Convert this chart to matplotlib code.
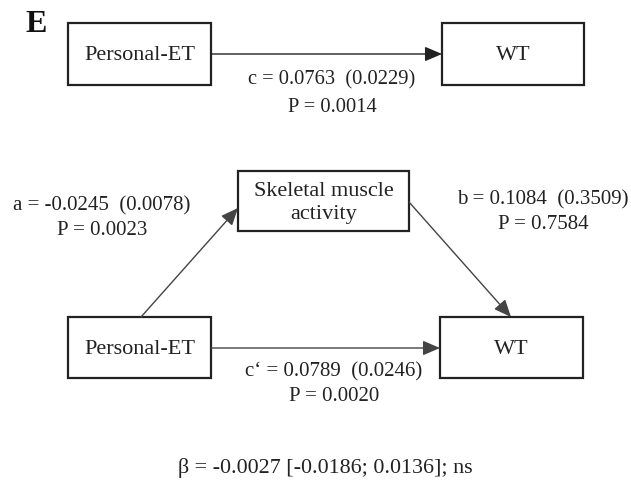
import matplotlib.pyplot as plt
from matplotlib.patches import Rectangle

# Mediation model values
path_names = ["c", "a", "b", "c\u2018"]
coefs = ["0.0763", "-0.0245", "0.1084", "0.0789"]
ses = ["0.0229", "0.0078", "0.3509", "0.0246"]
pvals = ["0.0014", "0.0023", "0.7584", "0.0020"]
indirect = ["-0.0027", "-0.0186", "0.0136", "ns"]

node_x = "Personal-ET"
node_y = "WT"
node_m = "Skeletal muscle\nactivity"

plt.rcParams['font.family'] = ['Liberation Serif', 'DejaVu Serif']

fig = plt.figure(figsize=(6.31, 4.81), dpi=100)
ax = fig.add_axes([0, 0, 1, 1])
ax.set_xlim(0, 631)
ax.set_ylim(481, 0)
ax.axis('off')

col = '#222222'


def box(x0, y0, x1, y1, label):
    ax.add_patch(Rectangle((x0, y0), x1 - x0, y1 - y0, fill=False,
                           edgecolor=col, lw=1.6))
    ax.text((x0 + x1) / 2, (y0 + y1) / 2 + 1, label, ha='center', va='center',
            fontsize=16, color=col, linespacing=1.3)


def arrow(x0, y0, x1, y1, color=col, lw=1.0):
    ax.annotate("", xy=(x1, y1), xytext=(x0, y0),
                arrowprops=dict(arrowstyle='-|>,head_length=0.7,head_width=0.3',
                                color=color, lw=lw,
                                mutation_scale=15, shrinkA=0, shrinkB=0))


def path_label(x, y, i, fs=15, gap=25):
    ax.text(x, y, f"{path_names[i]} = {coefs[i]}  ({ses[i]})", ha='center',
            va='center', fontsize=fs, color=col)
    ax.text(x, y + gap, f"P = {pvals[i]}", ha='center', va='center',
            fontsize=fs, color=col)


# panel letter
ax.text(25, 24, "E", fontsize=23, fontweight='bold', ha='left', va='center',
        color='#111111')

# total effect
box(68, 24, 211, 86, node_x)
box(442, 24, 584, 86, node_y)
arrow(211, 55, 442, 55)
path_label(332, 80, 0, fs=14.8, gap=27)

# mediation model
box(238, 172, 409, 232, node_m)
box(68, 318, 211, 379, node_x)
box(440, 318, 583, 379, node_y)
arrow(141, 318, 238, 209, color='#444444')
arrow(409, 203, 511, 318, color='#444444')
arrow(211, 349, 440, 349, color='#444444')

path_label(102, 206, 1)
path_label(543, 200, 2)
path_label(334, 372, 3)

ax.text(325, 468, f"\u03b2 = {indirect[0]} [{indirect[1]}; {indirect[2]}]; {indirect[3]}",
        ha='center', va='center', fontsize=15.8, color=col)

fig.savefig("out.png", dpi=100)
